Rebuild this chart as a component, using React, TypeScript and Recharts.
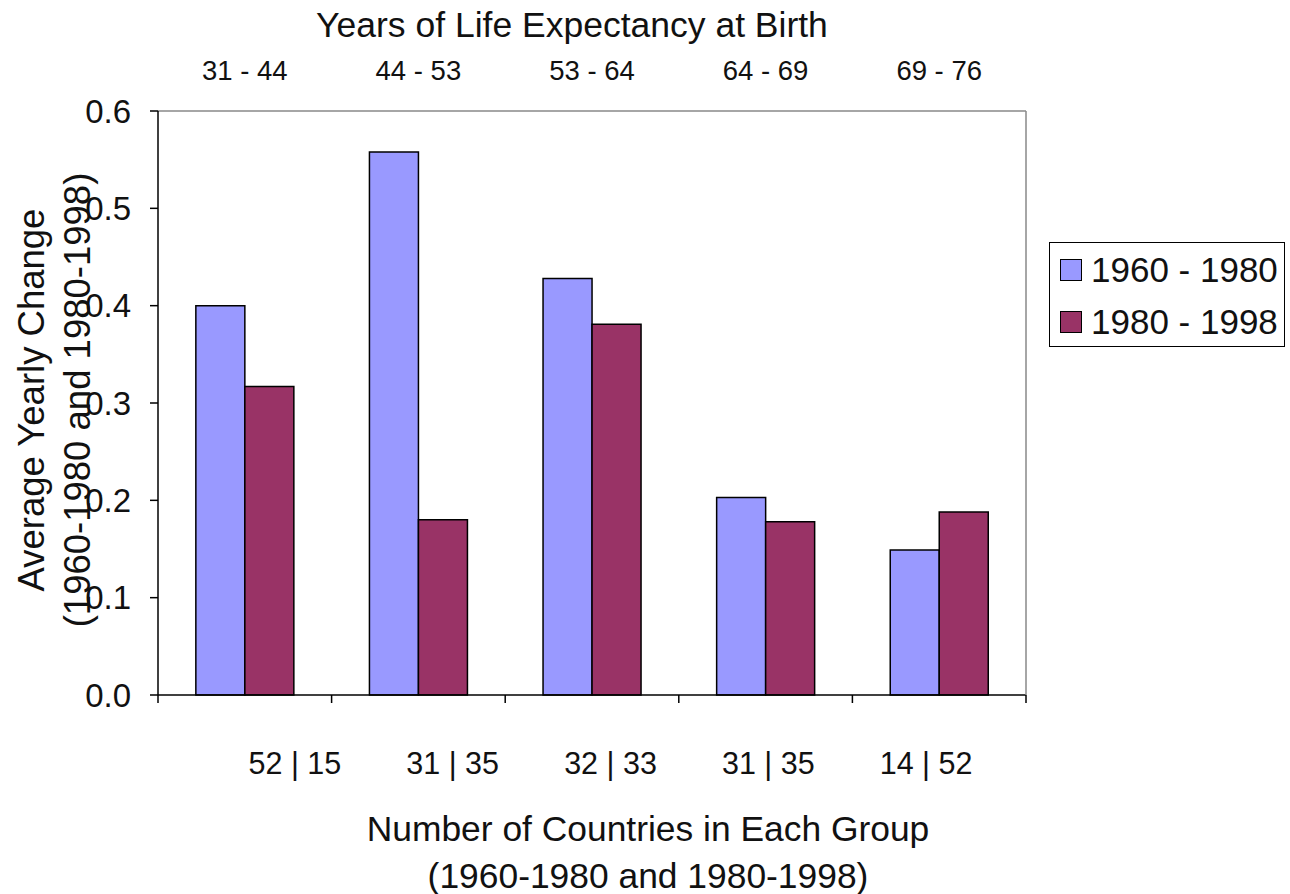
import { BarChart, Bar, XAxis, YAxis } from 'recharts'

const ranges = ['31 - 44', '44 - 53', '53 - 64', '64 - 69', '69 - 76']
const counts = ['52 | 15', '31 | 35', '32 | 33', '31 | 35', '14 | 52']
const change1960 = [0.4, 0.558, 0.428, 0.203, 0.149]
const change1980 = [0.317, 0.18, 0.381, 0.178, 0.188]
const yTicks = [0, 0.1, 0.2, 0.3, 0.4, 0.5, 0.6]

const series = [
  { key: 'p1', name: '1960 - 1980', color: '#9999FF' },
  { key: 'p2', name: '1980 - 1998', color: '#993366' },
]

const data = ranges.map((range, i) => ({
  range,
  counts: counts[i],
  p1: change1960[i],
  p2: change1980[i],
}))

const font = '"Liberation Sans", Arial, sans-serif'

// tick marks sit on the group boundaries, not on the category centres
function BoundaryTick(props: any) {
  const { x, y, width, index, visibleTicksCount } = props
  const band = width / visibleTicksCount
  const left = x - band / 2
  return (
    <g>
      <line x1={left} x2={left} y1={y - 8} y2={y} stroke="#000" strokeWidth={1.5} />
      {index === visibleTicksCount - 1 && (
        <line x1={x + band / 2} x2={x + band / 2} y1={y - 8} y2={y} stroke="#000" strokeWidth={1.5} />
      )}
    </g>
  )
}

export default function App() {
  return (
    <div style={{ position: 'absolute', left: 0, top: 0, width: 1290, height: 894, background: '#fff', fontFamily: font, color: '#111' }}>
      <div style={{ position: 'absolute', left: 272, top: 5, width: 600, textAlign: 'center', fontSize: 35.5, lineHeight: '40px' }}>
        Years of Life Expectancy at Birth
      </div>

      <div
        style={{
          position: 'absolute',
          left: 55 - 300,
          top: 400 - 46,
          width: 600,
          height: 92,
          transform: 'rotate(-90deg)',
          textAlign: 'center',
          fontSize: 36.5,
          lineHeight: '46px',
        }}
      >
        <div>Average Yearly Change</div>
        <div>(1960-1980 and 1980-1998)</div>
      </div>

      <div style={{ position: 'absolute', left: 348, top: 806, width: 600, textAlign: 'center', fontSize: 35.4, lineHeight: '47px' }}>
        <div>Number of Countries in Each Group</div>
        <div>(1960-1980 and 1980-1998)</div>
      </div>

      <div
        style={{
          position: 'absolute',
          left: 1049,
          top: 242,
          width: 236,
          height: 105,
          border: '1.5px solid #000',
          boxSizing: 'border-box',
          fontSize: 35,
        }}
      >
        {series.map((s, i) => (
          <div key={s.key} style={{ position: 'absolute', left: 10, top: 15 + i * 52, display: 'flex', alignItems: 'center', height: 24 }}>
            <div style={{ width: 20, height: 20, background: s.color, border: '1.5px solid #000', marginRight: 9 }} />
            <span style={{ lineHeight: '24px' }}>{s.name}</span>
          </div>
        ))}
      </div>

      <div style={{ position: 'absolute', left: 0, top: 0 }}>
        <BarChart
          width={1290}
          height={894}
          data={data}
          margin={{ top: 51, right: 263, bottom: 109, left: 98 }}
          barCategoryGap="21.8%"
          barGap={0}
        >
          <XAxis
            xAxisId="main"
            dataKey="range"
            orientation="top"
            height={60}
            axisLine={{ stroke: '#888', strokeWidth: 1.5 }}
            tickLine={false}
            tickSize={0}
            tickMargin={31}
            tick={{ fontSize: 27.5, fill: '#111', fontFamily: font }}
          />
          <XAxis
            xAxisId="edge"
            dataKey="range"
            orientation="bottom"
            height={10}
            axisLine={{ stroke: '#000', strokeWidth: 1.5 }}
            tickLine={false}
            tickSize={8}
            tickMargin={0}
            interval={0}
            tick={<BoundaryTick />}
          />
          <XAxis
            xAxisId="num"
            dataKey="counts"
            orientation="bottom"
            height={80}
            padding={{ left: 58, right: 21 }}
            axisLine={false}
            tickLine={false}
            tickSize={0}
            tickMargin={47}
            interval={0}
            tick={{ fontSize: 30.5, fill: '#111', fontFamily: font }}
          />
          <YAxis
            domain={[0, 0.6]}
            ticks={yTicks}
            width={60}
            tickFormatter={(v: number) => v.toFixed(1)}
            axisLine={{ stroke: '#000', strokeWidth: 1.5 }}
            tickLine={{ stroke: '#000', strokeWidth: 1.5 }}
            tickSize={8}
            tickMargin={19}
            tick={{ fontSize: 33, fill: '#111', fontFamily: font }}
          />
          <YAxis
            yAxisId="right"
            orientation="right"
            width={1}
            domain={[0, 0.6]}
            ticks={yTicks}
            tick={false}
            tickLine={false}
            axisLine={{ stroke: '#888', strokeWidth: 1.5 }}
          />
          {series.map((s) => (
            <Bar
              key={s.key}
              xAxisId="main"
              dataKey={s.key}
              name={s.name}
              fill={s.color}
              stroke="#000"
              strokeWidth={1.5}
              isAnimationActive={false}
            />
          ))}
        </BarChart>
      </div>
    </div>
  )
}
